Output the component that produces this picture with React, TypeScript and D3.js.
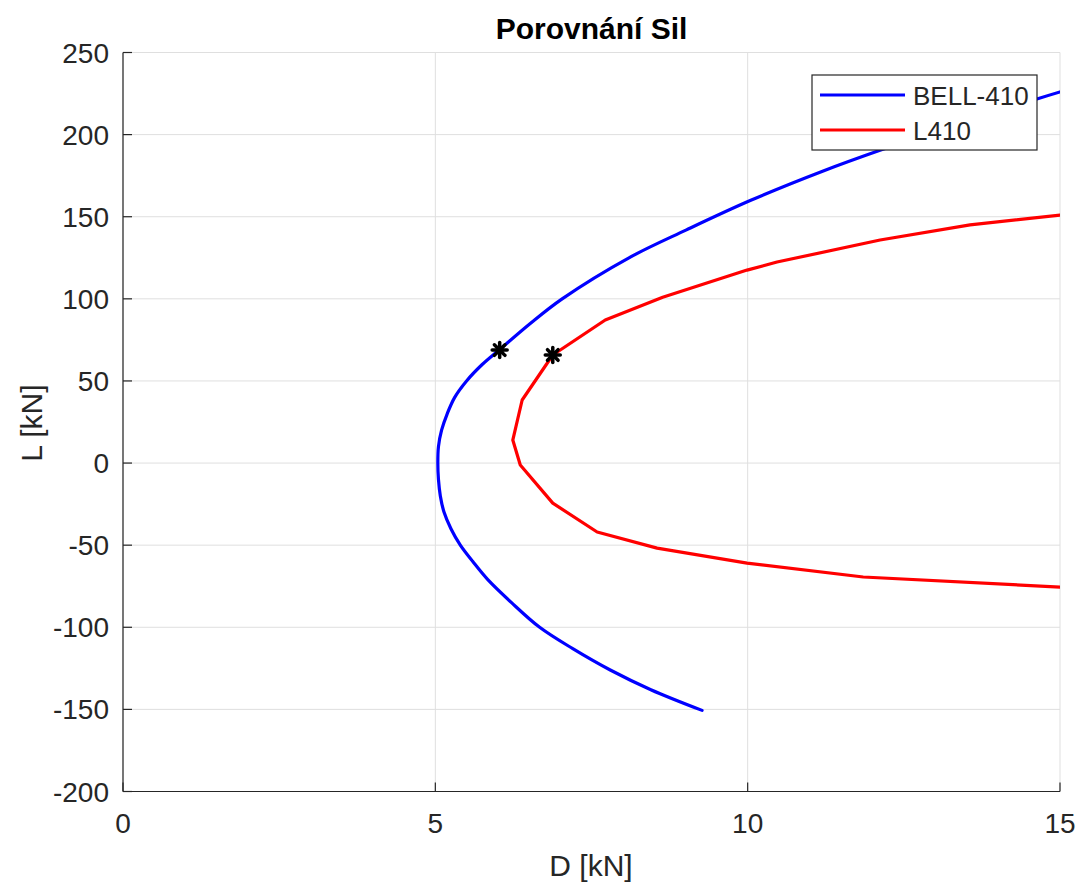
import React from "react";
import * as d3 from "d3";

const title = "Porovnání Sil";
const xLabel = "D [kN]";
const yLabel = "L [kN]";
const xTicks = [0, 5, 10, 15];
const yTicks = [-200, -150, -100, -50, 0, 50, 100, 150, 200, 250];

// BELL-410 polar: D and L values
const bellD = [9.27, 8.45, 7.8, 7.2, 6.67, 6.22, 5.84, 5.6, 5.4, 5.25, 5.14, 5.08, 5.05, 5.04, 5.05, 5.1, 5.19, 5.31, 5.5, 5.75, 6.02, 6.52, 7.03, 8.1, 9.02, 10.05, 11.22, 12.13, 13.1, 14.63, 15.0];
const bellL = [-150.6, -138, -126, -113, -100, -85, -71, -60, -50, -40, -30, -20, -10, 0, 10, 20, 30, 40, 50, 60, 68.8, 85, 100, 125, 142, 160, 178, 190.6, 203, 221.7, 226];

// L410 polar: D and L values
const l410D = [15, 11.85, 9.99, 8.55, 7.59, 6.88, 6.36, 6.24, 6.39, 6.88, 7.72, 8.64, 9.99, 10.47, 12.12, 13.56, 15];
const l410L = [-75.5, -69.4, -60.9, -51.8, -42, -24.4, -1.2, 14, 38.4, 65.8, 87.1, 101, 117.5, 122.4, 135.8, 145, 151];

// markers
const markerD = [6.03, 6.88];
const markerL = [68.8, 65.8];

const seriesNames = ["BELL-410", "L410"];
const seriesColors = ["#0000ff", "#ff0000"];

const FONT = "'Liberation Sans', Arial, Helvetica, sans-serif";
const AX = "#262626";
const GRID = "#dfdfdf";

export default function App() {
  const W = 1080, H = 883;
  const left = 123, right = 1060, top = 52.5, bottom = 791.5;
  const x = d3.scaleLinear().domain([0, 15]).range([left, right]);
  const y = d3.scaleLinear().domain([-200, 250]).range([bottom, top]);

  const smooth = d3
    .line<[number, number]>()
    .x((d) => x(d[0]))
    .y((d) => y(d[1]))
    .curve(d3.curveCatmullRom.alpha(0.5));
  const straight = d3
    .line<[number, number]>()
    .x((d) => x(d[0]))
    .y((d) => y(d[1]));

  const bell: [number, number][] = bellD.map((d, i) => [d, bellL[i]]);
  const l410: [number, number][] = l410D.map((d, i) => [d, l410L[i]]);
  const paths = [smooth(bell) || "", straight(l410) || ""];

  const tickLen = 9;

  return (
    <svg
      width={W}
      height={H}
      style={{ position: "absolute", left: 0, top: 0, background: "#fff" }}
      fontFamily={FONT}
    >
      <rect x={0} y={0} width={W} height={H} fill="#fff" />
      <defs>
        <clipPath id="plotclip">
          <rect x={left} y={top} width={right - left} height={bottom - top} />
        </clipPath>
      </defs>

      {/* grid */}
      {xTicks.map((t) => (
        <line key={"gx" + t} x1={x(t)} x2={x(t)} y1={top} y2={bottom} stroke={GRID} strokeWidth={1} />
      ))}
      {yTicks.map((t) => (
        <line key={"gy" + t} x1={left} x2={right} y1={y(t)} y2={y(t)} stroke={GRID} strokeWidth={1} />
      ))}

      {/* axes */}
      <line x1={left} x2={left} y1={top} y2={bottom} stroke={AX} strokeWidth={1.2} />
      <line x1={left} x2={right} y1={bottom} y2={bottom} stroke={AX} strokeWidth={1.2} />
      {xTicks.map((t) => (
        <g key={"tx" + t}>
          <line x1={x(t)} x2={x(t)} y1={bottom} y2={bottom - tickLen} stroke={AX} strokeWidth={1.2} />
          <text x={x(t)} y={833} textAnchor="middle" fontSize={28} fill={AX}>
            {t}
          </text>
        </g>
      ))}
      {yTicks.map((t) => (
        <g key={"ty" + t}>
          <line x1={left} x2={left + tickLen} y1={y(t)} y2={y(t)} stroke={AX} strokeWidth={1.2} />
          <text x={109} y={y(t) + 10} textAnchor="end" fontSize={28} fill={AX}>
            {t}
          </text>
        </g>
      ))}

      {/* curves */}
      <g clipPath="url(#plotclip)">
        {paths.map((p, i) => (
          <path
            key={"s" + i}
            d={p}
            fill="none"
            stroke={seriesColors[i]}
            strokeWidth={3.2}
            strokeLinejoin="round"
            strokeLinecap="round"
          />
        ))}
      </g>

      {/* markers */}
      {markerD.map((d, i) => {
        const cx = x(d), cy = y(markerL[i]);
        const r = 7.5;
        return (
          <g key={"m" + i} stroke="#000" strokeWidth={3.5} strokeLinecap="round">
            {[0, 45, 90, 135].map((a) => {
              const rad = (a * Math.PI) / 180;
              return (
                <line
                  key={a}
                  x1={cx - r * Math.cos(rad)}
                  y1={cy - r * Math.sin(rad)}
                  x2={cx + r * Math.cos(rad)}
                  y2={cy + r * Math.sin(rad)}
                />
              );
            })}
            <circle cx={cx} cy={cy} r={4} fill="#000" stroke="none" />
          </g>
        );
      })}

      {/* legend */}
      <g>
        <rect x={812} y={75} width={225} height={75} fill="#fff" stroke={AX} strokeWidth={1.2} />
        {seriesNames.map((n, i) => {
          const ly = 95 + i * 35;
          return (
            <g key={"l" + i}>
              <line x1={820} x2={905} y1={ly} y2={ly} stroke={seriesColors[i]} strokeWidth={3.2} />
              <text x={913} y={ly + 10} fontSize={26} fill={AX}>
                {n}
              </text>
            </g>
          );
        })}
      </g>

      {/* title and labels */}
      <text x={591.5} y={39} textAnchor="middle" fontSize={30} fontWeight="bold" fill="#000">
        {title}
      </text>
      <text x={591} y={876} textAnchor="middle" fontSize={30} fill={AX}>
        {xLabel}
      </text>
      <text transform="translate(42,423) rotate(-90)" textAnchor="middle" fontSize={30} fill={AX}>
        {yLabel}
      </text>
    </svg>
  );
}
